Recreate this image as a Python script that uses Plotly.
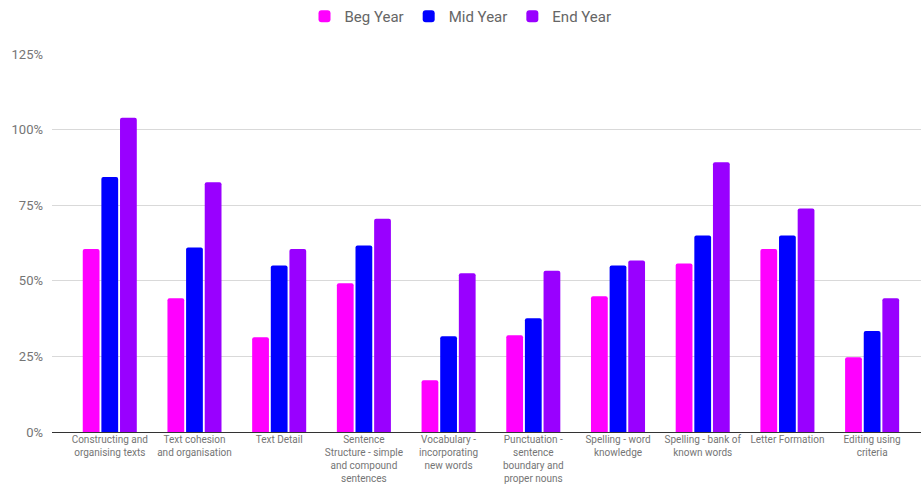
import plotly.graph_objects as go

categories = [
    "Constructing and<br>organising texts",
    "Text cohesion<br>and organisation",
    "Text Detail",
    "Sentence<br>Structure - simple<br>and compound<br>sentences",
    "Vocabulary -<br>incorporating<br>new words",
    "Punctuation -<br>sentence<br>boundary and<br>proper nouns",
    "Spelling - word<br>knowledge",
    "Spelling - bank of<br>known words",
    "Letter Formation",
    "Editing using<br>criteria",
]

beg_year = [0.605, 0.442, 0.313, 0.492, 0.171, 0.320, 0.449, 0.557, 0.605, 0.247]
mid_year = [0.843, 0.610, 0.551, 0.617, 0.317, 0.376, 0.551, 0.650, 0.650, 0.334]
end_year = [1.039, 0.826, 0.605, 0.705, 0.525, 0.533, 0.567, 0.892, 0.739, 0.442]

y_ticks = [0, 0.25, 0.5, 0.75, 1.0, 1.25]
y_tick_text = ["0%", "25%", "50%", "75%", "100%", "125%"]

series = [
    ("Beg Year", beg_year, "#ff00ff"),
    ("Mid Year", mid_year, "#0000ff"),
    ("End Year", end_year, "#9900ff"),
]

x_idx = list(range(len(categories)))

fig = go.Figure()
for name, vals, color in series:
    fig.add_trace(go.Bar(
        name=name,
        x=x_idx,
        y=vals,
        marker=dict(color=color, cornerradius=2, line=dict(width=0)),
    ))

fig.update_layout(
    width=921,
    height=495,
    barmode="group",
    bargap=0.34,
    bargroupgap=0.1,
    plot_bgcolor="white",
    paper_bgcolor="white",
    margin=dict(l=52, r=0, t=54, b=63),
    font=dict(family="Roboto", color="#757575"),
    legend=dict(
        orientation="h",
        x=0.5, xanchor="center",
        xref="container",
        y=1.0, yanchor="top",
        yref="container",
        font=dict(size=15, color="#666666"),
        itemwidth=30,
    ),
    xaxis=dict(
        tickmode="array",
        tickvals=x_idx,
        ticktext=categories,
        range=[-0.682, 9.577],
        showgrid=False,
        showline=False,
        ticks="",
        tickfont=dict(size=10, color="#757575"),
        zeroline=False,
    ),
    yaxis=dict(
        range=[0, 1.25],
        tickmode="array",
        tickvals=y_ticks,
        ticktext=y_tick_text,
        showgrid=True,
        gridcolor="#d9d9d9",
        gridwidth=1,
        zeroline=True,
        zerolinecolor="#333333",
        zerolinewidth=1,
        tickfont=dict(size=13, color="#757575"),
        ticks="",
        ticklabelstandoff=8,
    ),
)

fig.write_html("out.html")
